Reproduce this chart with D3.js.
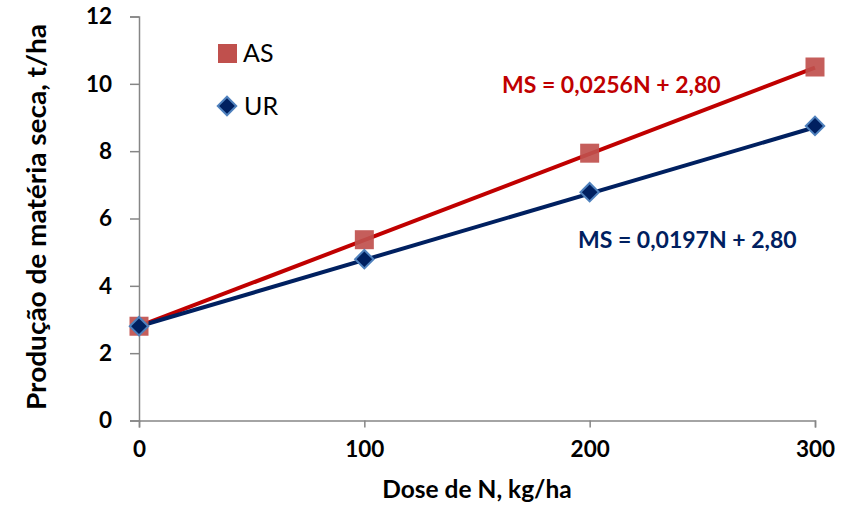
<!DOCTYPE html>
<html>
<head>
<meta charset="utf-8">
<script src="https://cdn.jsdelivr.net/npm/d3@7"></script>
<style>
  body { margin: 0; background: #fff; }
  text { font-family: Lato, "Open Sans", sans-serif; }
</style>
</head>
<body>
<div id="chart"></div>
<script>
// data
var doses = [0, 100, 200, 300];
var asValues = [2.80, 5.37, 7.94, 10.50];
var urValues = [2.80, 4.79, 6.78, 8.75];
var xTicks = [0, 100, 200, 300];
var yTicks = [0, 2, 4, 6, 8, 10, 12];
// trend line coefficients (slope, intercept) from the equations
var asTrend = [0.0256, 2.80];
var urTrend = [0.0197, 2.80];

var width = 850, height = 509;

var svg = d3.select("#chart")
  .append("svg")
    .attr("width", width)
    .attr("height", height);

var x = d3.scaleLinear()
  .domain([0, 300])
  .range([139, 815]);

var y = d3.scaleLinear()
  .domain([0, 12])
  .range([420.5, 16.5]);

// axes
var xAxis = svg.append("g")
  .attr("transform", "translate(0," + y(0) + ")")
  .call(d3.axisBottom(x).tickValues(xTicks).tickSizeOuter(0).tickSize(7).tickPadding(14));

var yAxis = svg.append("g")
  .attr("transform", "translate(" + x(0) + ",0)")
  .call(d3.axisLeft(y).tickValues(yTicks).tickSizeOuter(0).tickSize(9).tickPadding(18));

[xAxis, yAxis].forEach(function(g) {
  g.select(".domain").attr("stroke", "#868686").attr("stroke-width", 1.5);
  g.selectAll(".tick line").attr("stroke", "#868686").attr("stroke-width", 1.5);
  g.selectAll(".tick text")
    .attr("fill", "#000")
    .style("font-size", "22.5px")
    .style("font-weight", "bold");
});

// trend lines
var trendLine = d3.line()
  .x(function(d) { return x(d[0]) })
  .y(function(d) { return y(d[1]) });

svg.append("path")
  .datum([[0, asTrend[1]], [300, asTrend[0] * 300 + asTrend[1]]])
  .attr("fill", "none")
  .attr("stroke", "#c00000")
  .attr("stroke-width", 4)
  .attr("d", trendLine);

svg.append("path")
  .datum([[0, urTrend[1]], [300, urTrend[0] * 300 + urTrend[1]]])
  .attr("fill", "none")
  .attr("stroke", "#002060")
  .attr("stroke-width", 4)
  .attr("d", trendLine);

// markers
var sq = 19;
svg.append("g")
  .selectAll("rect")
  .data(doses)
  .enter().append("rect")
    .attr("x", function(d) { return x(d) - sq / 2 })
    .attr("y", function(d, i) { return y(asValues[i]) - sq / 2 })
    .attr("width", sq)
    .attr("height", sq)
    .attr("fill", "#c0504d")
    .attr("opacity", 0.92);

var diamond = d3.symbol().type(d3.symbolSquare).size(170);
svg.append("g")
  .selectAll("path")
  .data(doses)
  .enter().append("path")
    .attr("d", diamond)
    .attr("transform", function(d, i) { return "translate(" + x(d) + "," + y(urValues[i]) + ") rotate(45)" })
    .attr("fill", "#002060")
    .attr("stroke", "#4f81bd")
    .attr("stroke-width", 2);

// legend
svg.append("rect")
  .attr("x", 218).attr("y", 44)
  .attr("width", 19).attr("height", 19)
  .attr("fill", "#c0504d");
svg.append("text")
  .attr("x", 243).attr("y", 62)
  .style("font-size", "25px")
  .text("AS");

svg.append("path")
  .attr("d", diamond)
  .attr("transform", "translate(227,106) rotate(45)")
  .attr("fill", "#002060")
  .attr("stroke", "#4f81bd")
  .attr("stroke-width", 2);
svg.append("text")
  .attr("x", 244).attr("y", 115)
  .style("font-size", "25px")
  .text("UR");

// equations
svg.append("text")
  .attr("x", 502).attr("y", 93)
  .attr("fill", "#c00000")
  .style("font-size", "23px")
  .style("font-weight", "bold")
  .text("MS = 0,0256N + 2,80");

svg.append("text")
  .attr("x", 578).attr("y", 248)
  .attr("fill", "#002060")
  .style("font-size", "23px")
  .style("font-weight", "bold")
  .text("MS = 0,0197N + 2,80");

// axis titles
svg.append("text")
  .attr("x", 477).attr("y", 498)
  .attr("text-anchor", "middle")
  .style("font-size", "24.5px")
  .style("font-weight", "bold")
  .text("Dose de N, kg/ha");

svg.append("text")
  .attr("transform", "translate(46,217) rotate(-90)")
  .attr("text-anchor", "middle")
  .attr("textLength", 386)
  .attr("lengthAdjust", "spacingAndGlyphs")
  .style("font-size", "26px")
  .style("font-weight", "bold")
  .text("Produção de matéria seca, t/ha");
</script>
</body>
</html>
